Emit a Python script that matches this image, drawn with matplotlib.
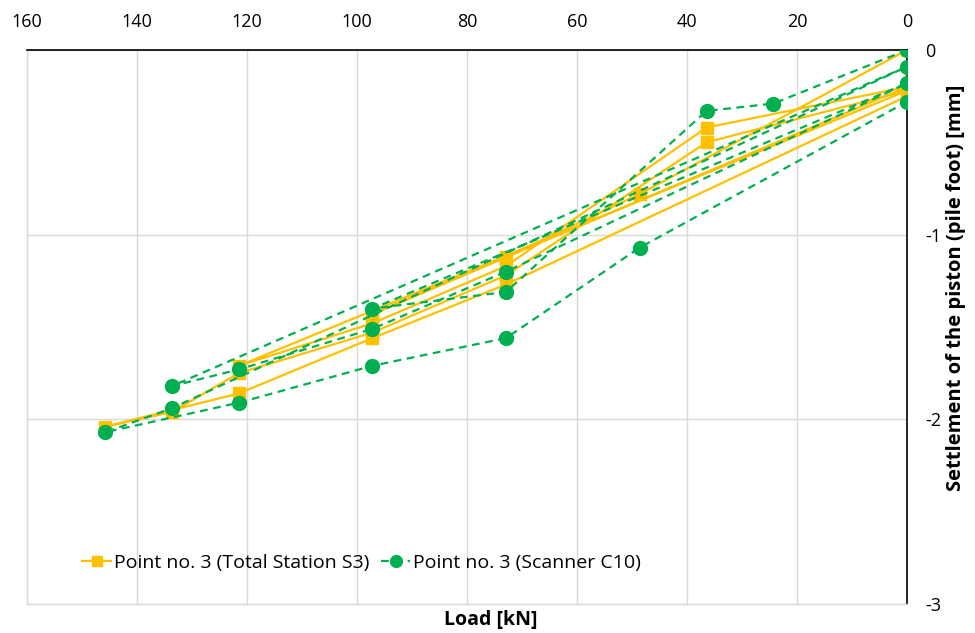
import matplotlib
matplotlib.use("Agg")
import matplotlib.pyplot as plt

# ---- data ----
ts_load = [0, 48.6, 72.9, 97.2, 0, 36.45, 72.9, 97.2, 121.5, 0, 36.45, 72.9, 97.2, 121.5,
           133.65, 145.8, 121.5, 97.2, 72.9, 0]
ts_settle = [0.00, -0.78, -1.12, -1.43, -0.20, -0.42, -1.17, -1.48, -1.71, -0.22, -0.50, -1.22,
             -1.53, -1.75, -1.96, -2.04, -1.86, -1.56, -1.27, -0.25]

sc_load = [0, 24.3, 36.45, 72.9, 97.2, 0, 72.9, 97.2, 121.5, 133.65, 0, 133.65, 145.8,
           121.5, 97.2, 72.9, 48.6, 0]
sc_settle = [0.00, -0.29, -0.33, -1.31, -1.40, -0.18, -1.20, -1.51, -1.73, -1.82, -0.09, -1.94,
             -2.07, -1.91, -1.71, -1.56, -1.07, -0.28]

x_ticks = [160, 140, 120, 100, 80, 60, 40, 20, 0]
y_ticks = [0, -1, -2, -3]
ts_label = "Point no. 3 (Total Station S3)"
sc_label = "Point no. 3 (Scanner C10)"
x_title = "Load [kN]"
y_title = "Settlement of the piston (pile foot) [mm]"

plt.rcParams['font.family'] = ['Open Sans', 'DejaVu Sans']

W, H = 975, 633
fig = plt.figure(figsize=(W / 100, H / 100), dpi=100)
ax = fig.add_axes([27 / W, (H - 604) / H, (907 - 27) / W, (604 - 50) / H])

yellow = "#FFC000"
green = "#00B050"

ax.plot(ts_load, ts_settle, color=yellow, lw=1.6, marker='s', markersize=8.5,
        markerfacecolor=yellow, markeredgecolor=yellow, label=ts_label, zorder=3)
ax.plot(sc_load, sc_settle, color=green, lw=1.6, ls=(0, (3.5, 2.5)), marker='o', markersize=10,
        markerfacecolor=green, markeredgecolor=green, label=sc_label, zorder=4)

ax.set_xlim(160, 0)
ax.set_ylim(-3, 0)
ax.set_xticks(x_ticks)
ax.set_yticks(y_ticks)
ax.set_yticklabels([str(v) for v in y_ticks])

ax.xaxis.tick_top()
ax.yaxis.tick_right()
ax.tick_params(axis='both', length=0, labelsize=13, colors='#000000')
ax.tick_params(axis='x', pad=14)
ax.tick_params(axis='y', pad=13)

ax.grid(True, color='#d9d9d9', lw=1.0)
ax.set_axisbelow(True)
for s in ['left', 'bottom']:
    ax.spines[s].set_color('#d9d9d9')
    ax.spines[s].set_linewidth(1.0)
for s in ['top', 'right']:
    ax.spines[s].set_color('#000000')
    ax.spines[s].set_linewidth(1.2)

fig.text(491 / W, 1 - 620 / H, x_title, ha='center', va='center', fontsize=14, fontweight='bold')
fig.text(956 / W, 1 - 288 / H, y_title, ha='center', va='center', rotation=90,
         fontsize=14.5, fontweight='bold')

leg = ax.legend(loc='center left', bbox_to_anchor=(82 / W, 1 - 563 / H),
                bbox_transform=fig.transFigure, ncol=2, frameon=False, fontsize=14,
                handlelength=1.5, handletextpad=0.15, columnspacing=0.6, borderaxespad=0,
                borderpad=0, markerscale=0.85)

fig.savefig("out.png", dpi=100)
